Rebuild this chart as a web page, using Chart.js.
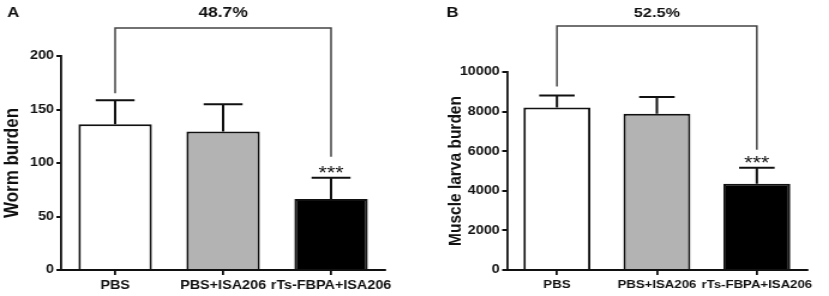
<!DOCTYPE html>
<html>
<head>
<meta charset="utf-8">
<script src="https://cdn.jsdelivr.net/npm/chart.js@4.4.1/dist/chart.umd.min.js"></script>
<style>
    body { margin: 0; background: #fff; }
    #wrap { position: relative; width: 829px; height: 296px; overflow: hidden; }
    canvas { position: absolute; top: 0; }
</style>
</head>
<body>
<div id="wrap">
    <canvas id="graficoA" width="346" height="296" style="left:0px;width:415px;height:296px"></canvas>
    <canvas id="graficoB" width="341" height="296" style="left:420px;width:409px;height:296px"></canvas>
</div>
<script>
// grupos
const categorias = ['PBS', 'PBS+ISA206', 'rTs-FBPA+ISA206'];
const coresBarras = ['#ffffff', '#b3b3b3', '#000000'];

// A - vermes adultos
const wormMedia = [136.3, 129.4, 66.3];
const wormSD = [22.4, 25.5, 19.8];
const wormTicks = [0, 50, 100, 150, 200];

// B - larvas musculares
const larvaMedia = [8210, 7890, 4350];
const larvaSD = [607, 843, 809];
const larvaTicks = [0, 2000, 4000, 6000, 8000, 10000];

const reducaoA = '48.7%';
const reducaoB = '52.5%';

const fonte = "'Liberation Sans', Arial, Helvetica, sans-serif";
Chart.defaults.font.family = fonte;
Chart.defaults.color = '#111';

// barras de erro, colchete e asteriscos
const marcasPlugin = {
    id: 'marcas',
    afterDatasetsDraw(chart, args, opts) {
        const ctx = chart.ctx;
        const y = chart.scales.y;
        const meta = chart.getDatasetMeta(0);
        const media = chart.data.datasets[0].data;
        const caps = [];

        ctx.save();
        ctx.strokeStyle = '#111';
        ctx.lineWidth = 2;
        meta.data.forEach((bar, i) => {
            const topo = y.getPixelForValue(media[i] + opts.erros[i]);
            const meia = bar.width * 0.265;
            ctx.beginPath();
            ctx.moveTo(bar.x, bar.y);
            ctx.lineTo(bar.x, topo);
            ctx.moveTo(bar.x - meia, topo);
            ctx.lineTo(bar.x + meia, topo);
            ctx.stroke();
            caps.push(topo);
        });

        // colchete
        const x0 = meta.data[0].x;
        const x2 = meta.data[2].x;
        ctx.strokeStyle = '#444';
        ctx.lineWidth = 1.5;
        ctx.beginPath();
        ctx.moveTo(x0, caps[0] - opts.gapEsq);
        ctx.lineTo(x0, opts.topo);
        ctx.lineTo(x2, opts.topo);
        ctx.lineTo(x2, caps[2] - opts.gapDir);
        ctx.stroke();

        ctx.fillStyle = '#111';
        ctx.textAlign = 'center';
        ctx.textBaseline = 'alphabetic';
        ctx.font = `18px ${fonte}`;
        ctx.fillText('***', x2, caps[2] + 1);

        ctx.textBaseline = 'middle';
        ctx.font = `bold ${opts.tamTexto}px ${fonte}`;
        ctx.fillText(opts.texto, (x0 + x2) / 2, 13);

        ctx.font = `bold 14px ${fonte}`;
        ctx.fillText(opts.painel, opts.painelX, 13);
        ctx.restore();
    }
};

function criarGrafico(id, medias, erros, ticks, maximo, tituloY, tamTitulo, padTitulo, larguraY, cfg) {
    const ctx = document.getElementById(id).getContext('2d');
    return new Chart(ctx, {
        type: 'bar',
        data: {
            labels: categorias,
            datasets: [{
                data: medias,
                backgroundColor: coresBarras,
                borderColor: '#111',
                borderWidth: 2,
                borderSkipped: 'bottom',
                categoryPercentage: 1,
                barPercentage: cfg.barra
            }]
        },
        options: {
            responsive: false,
            animation: false,
            devicePixelRatio: 1,
            layout: { padding: { top: cfg.topo, right: cfg.direita, left: 0, bottom: 0 } },
            scales: {
                x: {
                    offset: true,
                    afterFit: (s) => { s.height = cfg.baixo; },
                    grid: { display: true, drawOnChartArea: false, offset: false, tickLength: 5, lineWidth: 1.8, color: '#111' },
                    border: { color: '#111', width: 2 },
                    ticks: { font: { size: cfg.tamRotulo, weight: 'bold' }, color: '#111', maxRotation: 0, minRotation: 0, autoSkip: false, padding: 3 }
                },
                y: {
                    min: 0,
                    max: maximo,
                    afterFit: (s) => { s.width = larguraY; },
                    afterBuildTicks: (s) => { s.ticks = ticks.map(v => ({ value: v })); },
                    grid: { display: true, drawOnChartArea: false, tickLength: 4, lineWidth: 2, color: '#111' },
                    border: { color: '#111', width: 1.8 },
                    ticks: { font: { size: 12, weight: 'bold' }, color: '#111', padding: 2, callback: (v) => String(v) },
                    title: { display: true, text: tituloY, font: { size: tamTitulo, weight: 'bold' }, color: '#111', padding: { top: padTitulo, bottom: 0 } }
                }
            },
            plugins: {
                legend: { display: false },
                tooltip: { enabled: false },
                marcas: cfg.marcas
            }
        },
        plugins: [marcasPlugin]
    });
}

criarGrafico('graficoA', wormMedia, wormSD, wormTicks, 200, 'Worm burden', 17, 0, 51, {
    barra: 0.68, topo: 56, direita: 25, baixo: 26, tamRotulo: 12,
    marcas: { erros: wormSD, topo: 28, gapEsq: 7, gapDir: 21, texto: reducaoA, tamTexto: 14.5, painel: 'A', painelX: 11 }
});

criarGrafico('graficoB', larvaMedia, larvaSD, larvaTicks, 10000, 'Muscle larva burden', 15.5, 20, 72.5, {
    barra: 0.67, topo: 72, direita: 18.5, baixo: 26, tamRotulo: 11,
    marcas: { erros: larvaSD, topo: 26, gapEsq: 9, gapDir: 18, texto: reducaoB, tamTexto: 13.5, painel: 'B', painelX: 27 }
});
</script>
</body>
</html>
